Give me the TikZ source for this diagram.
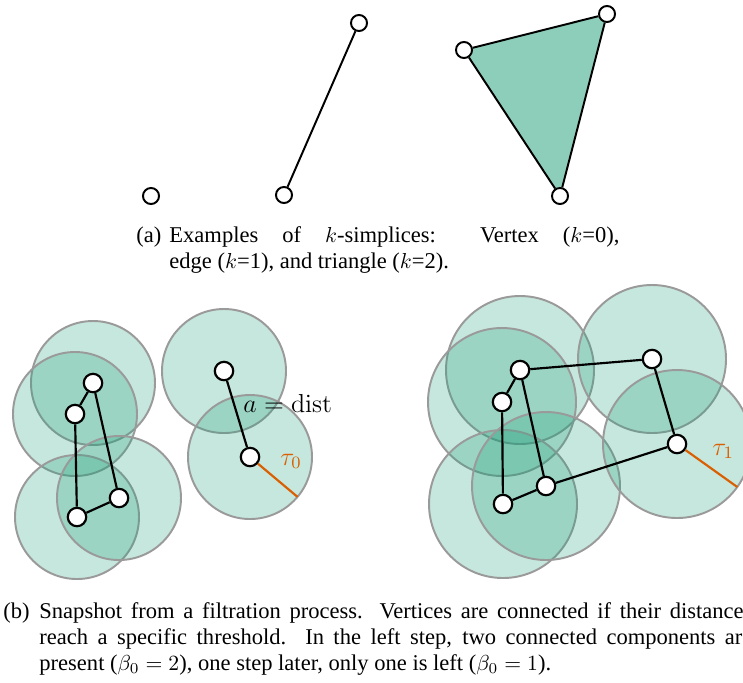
\documentclass[tikz,border=0pt]{standalone}
\usepackage[no-math]{fontspec}
\setmainfont{Liberation Serif}
\usetikzlibrary{backgrounds,calc}
\definecolor{simgreen}{HTML}{1B9E77}
\definecolor{simorange}{HTML}{D95F02}
\definecolor{simgray}{HTML}{9A9A9A}
\tikzset{
  vtx/.style={circle,draw=black,fill=white,line width=1pt,minimum size=8.5pt,inner sep=0pt},
  vtxsmall/.style={vtx,line width=.9pt,minimum size=7.4pt},
  link/.style={draw=black,line width=1pt},
  linksmall/.style={link,line width=.9pt},
  ball/.style={draw=simgray,fill=simgreen,fill opacity=.25,line width=.9pt},
  face/.style={fill=simgreen!50},
  taurule/.style={draw=simorange,line width=1pt},
  captag/.style={font=\fontsize{10.4}{12}\selectfont,inner sep=0pt,anchor=base west},
  captext/.style={captag,align=justify},
  lbl/.style={font=\fontsize{11.9}{14}\selectfont,inner sep=0pt,anchor=base west},
}

\begin{document}
\begin{tikzpicture}[x=0.4615pt,y=-0.4615pt]
  \useasboundingbox (0,0) rectangle (743,682);
  % (a) simplices
  \node[vtxsmall] (p0) at (151,196) {};
  \node[vtxsmall] (e0) at (284,195) {};
  \node[vtxsmall] (e1) at (359,23) {};
  \draw[linksmall] (e0) -- (e1);
  \node[vtxsmall] (t0) at (464,50) {};
  \node[vtxsmall] (t1) at (607,14) {};
  \node[vtxsmall] (t2) at (560,196) {};
  \draw[linksmall] (t0) -- (t1) -- (t2) -- (t0);
  \node[captag] (tag-a) at (136,242) {(a)};
  \node[captext,text width=207.7pt] (cap-a) at (169,242)
    {Examples of $k$-simplices: Vertex ($k$=0),\linebreak edge ($k$=1), and triangle ($k$=2).};
  % (b) left step
  \node[vtx] (v1) at (93,383) {};
  \node[vtx] (v2) at (75,414) {};
  \node[vtx] (v3) at (77,517) {};
  \node[vtx] (v4) at (119,498) {};
  \node[vtx] (v5) at (224,371) {};
  \node[vtx] (v6) at (250,457) {};
  \draw[link] (v1) -- (v2) -- (v3) -- (v4) -- (v1);
  \draw[link] (v5) -- (v6);
  \coordinate (t0end) at ($(v6)+(40:62)$);
  \draw[taurule] (v6) -- (t0end);
  \node[lbl] (adist) at (243,412) {$a=\mathrm{dist}$};
  \node[lbl,text=simorange] (tau0) at (280,465) {$\tau_0$};
  % (b) right step
  \node[vtx] (w1) at (520,370) {};
  \node[vtx] (w2) at (502,402) {};
  \node[vtx] (w3) at (503,504) {};
  \node[vtx] (w4) at (546,486) {};
  \node[vtx] (w5) at (652,359) {};
  \node[vtx] (w6) at (677,444) {};
  \draw[link] (w1) -- (w2) -- (w3) -- (w4) -- (w1);
  \draw[link] (w1) -- (w5) -- (w6) -- (w4);
  \coordinate (t1end) at ($(w6)+(35.5:74)$);
  \draw[taurule] (w6) -- (t1end);
  \node[lbl,text=simorange] (tau1) at (712,455) {$\tau_1$};
  \node[captag] (tag-b) at (3,618) {(b)};
  \node[captext,text width=329pt] (cap-b) at (39,618)
    {Snapshot from a filtration process. Vertices are connected if their distances\linebreak
     reach a specific threshold. In the left step, two connected components are\linebreak
     present ($\beta_0 = 2$), one step later, only one is left ($\beta_0 = 1$).};
  \begin{scope}[on background layer]
    \fill[face] (t0.center) -- (t1.center) -- (t2.center) -- cycle;
    \foreach \c in {v1,v2,v3,v4,v5,v6} \draw[ball] (\c) circle[radius=62];
    \foreach \c in {w1,w2,w3,w4,w5,w6} \draw[ball] (\c) circle[radius=74];
  \end{scope}
\end{tikzpicture}
\end{document}
